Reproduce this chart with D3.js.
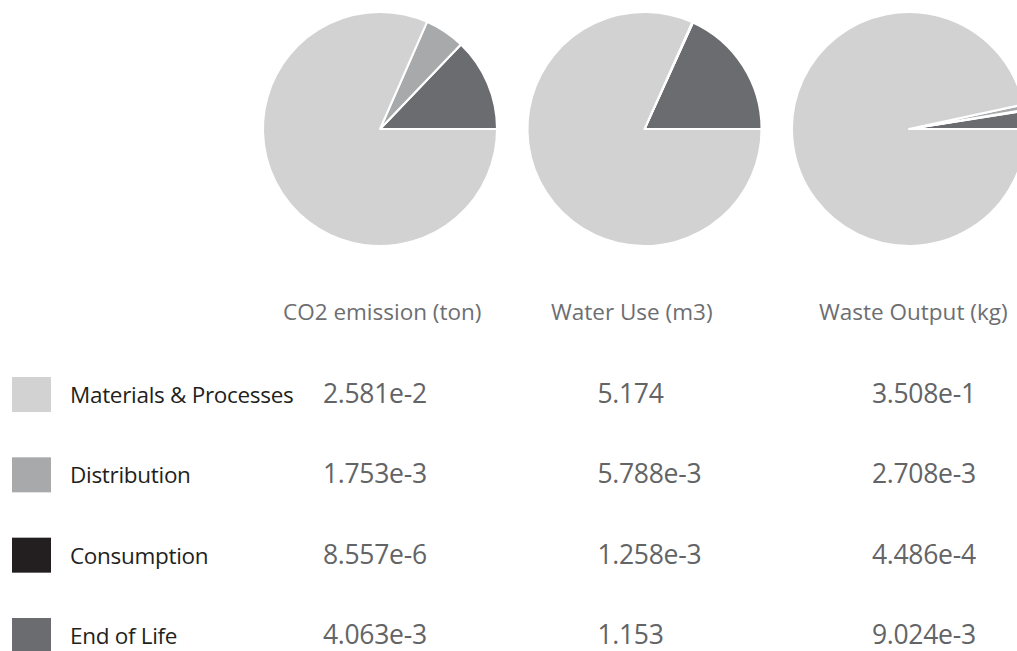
<!DOCTYPE html>
<html>
<head>
<meta charset="utf-8">
<script src="https://cdn.jsdelivr.net/npm/d3@7"></script>
<style>
  html, body { margin: 0; padding: 0; background: #fff; overflow: hidden; }
  svg { display: block; }
  text { font-family: "Open Sans", "Noto Sans", sans-serif; }
</style>
</head>
<body>
<svg id="chart" width="1017" height="651"></svg>
<script>
// ---- data ----
const categories = ["Materials & Processes", "Distribution", "Consumption", "End of Life"];
const metrics = ["CO2 emission (ton)", "Water Use (m3)", "Waste Output (kg)"];
const co2Values = [2.581e-2, 1.753e-3, 8.557e-6, 4.063e-3];
const waterValues = [5.174, 5.788e-3, 1.258e-3, 1.153];
const wasteValues = [3.508e-1, 2.708e-3, 4.486e-4, 9.024e-3];
const co2Labels = ["2.581e-2", "1.753e-3", "8.557e-6", "4.063e-3"];
const waterLabels = ["5.174", "5.788e-3", "1.258e-3", "1.153"];
const wasteLabels = ["3.508e-1", "2.708e-3", "4.486e-4", "9.024e-3"];
const categoryColors = ["#d2d2d2", "#a7a9ab", "#231f20", "#6b6c6f"];

const seriesValues = [co2Values, waterValues, wasteValues];
const seriesLabels = [co2Labels, waterLabels, wasteLabels];

// ---- layout ----
const svg = d3.select("#chart");
const color = d3.scaleOrdinal().domain(categories).range(categoryColors);

const pieX = d3.scalePoint().domain(metrics).range([380, 909]);
const pieY = 129;
const radius = 117;

const headerX = d3.scalePoint().domain(metrics).range([283, 819]);
const valueX = d3.scalePoint().domain(metrics).range([323, 872]);
const rowY = d3.scalePoint().domain(categories).range([403, 644]);

const pie = d3.pie().sort(null).value(d => d.value)
  .startAngle(Math.PI / 2).endAngle(Math.PI / 2 - 2 * Math.PI);
const arc = d3.arc().innerRadius(0).outerRadius(radius);

metrics.forEach((m, i) => {
  const data = categories.map((c, j) => ({ cat: c, value: seriesValues[i][j] })).reverse();
  const g = svg.append("g").attr("transform", `translate(${pieX(m)},${pieY})`);
  g.selectAll("path").data(pie(data)).join("path")
    .attr("d", arc)
    .attr("fill", d => color(d.data.cat))
    .attr("stroke", "#ffffff")
    .attr("stroke-width", 2)
    .attr("stroke-linejoin", "round");
});

// headers
svg.selectAll("text.header").data(metrics).join("text")
  .attr("class", "header")
  .attr("x", d => headerX(d))
  .attr("y", 320)
  .attr("font-size", 22.5)
  .attr("fill", "#6d6e71")
  .text(d => d);

// legend
svg.selectAll("rect.swatch").data(categories).join("rect")
  .attr("class", "swatch")
  .attr("x", 12)
  .attr("y", d => rowY(d) - 26)
  .attr("width", 39)
  .attr("height", 35)
  .attr("fill", d => color(d));

svg.selectAll("text.cat").data(categories).join("text")
  .attr("class", "cat")
  .attr("x", 70)
  .attr("y", d => rowY(d))
  .attr("font-size", 22.5)
  .attr("letter-spacing", -0.3)
  .attr("fill", "#231f20")
  .text(d => d);

// values
metrics.forEach((m, i) => {
  svg.selectAll(null).data(categories).join("text")
    .attr("x", valueX(m))
    .attr("y", d => rowY(d))
    .attr("font-size", 26.5)
    .attr("letter-spacing", -0.3)
    .attr("fill", "#636466")
    .text((d, j) => seriesLabels[i][j]);
});
</script>
</body>
</html>
